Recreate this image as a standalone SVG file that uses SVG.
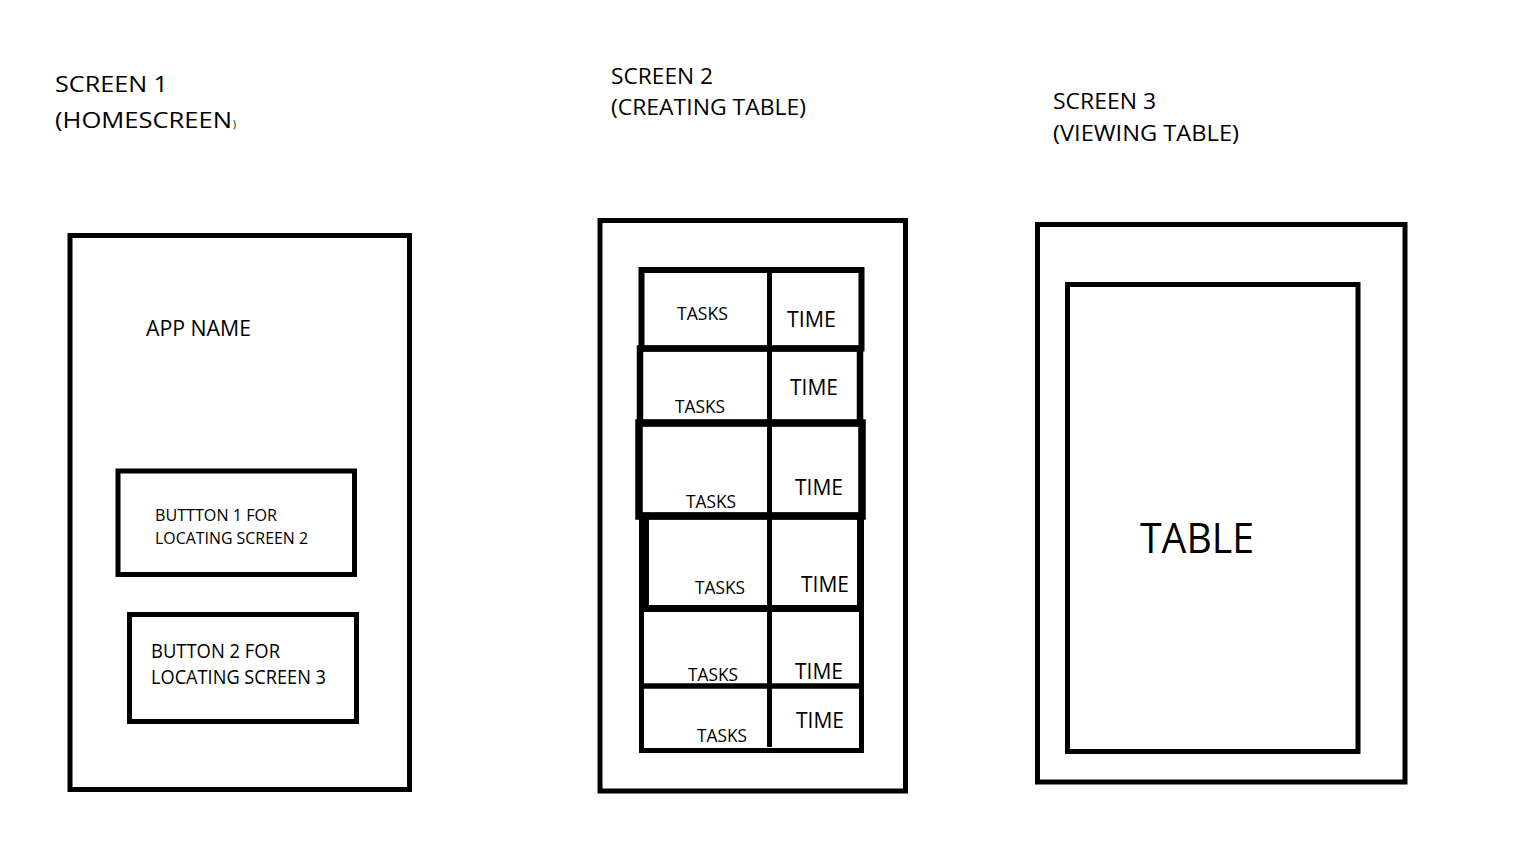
<svg xmlns="http://www.w3.org/2000/svg" width="1536" height="864" viewBox="0 0 1536 864">
<style>
  .box { fill: none; stroke: #000; stroke-width: 5; }
  .t { font-family: "Open Sans", "Liberation Sans", sans-serif; fill: #000; }
  .title { font-size: 22px; }
  .tasks { font-size: 18px; }
  .time { font-size: 21px; }
</style>
<rect width="1536" height="864" fill="#fff"/>

<g id="screen1">
  <text class="t title" x="55" y="92" textLength="113" lengthAdjust="spacingAndGlyphs">SCREEN 1</text>
  <text class="t title" x="55" y="128" textLength="177" lengthAdjust="spacingAndGlyphs">(HOMESCREEN</text>
  <text class="t" x="233" y="128" font-size="10">)</text>
  <rect class="box" x="70" y="235.5" width="339.5" height="554"/>
  <text class="t" x="146" y="336" font-size="22" textLength="105" lengthAdjust="spacingAndGlyphs">APP NAME</text>
</g>

<g id="button1">
  <rect class="box" x="118" y="471" width="236.5" height="103.5"/>
  <text class="t" x="155" y="521" font-size="17" textLength="122" lengthAdjust="spacingAndGlyphs">BUTTTON 1 FOR</text>
  <text class="t" x="155" y="544" font-size="17" textLength="153" lengthAdjust="spacingAndGlyphs">LOCATING SCREEN 2</text>
</g>

<g id="button2">
  <rect class="box" x="129.5" y="614.5" width="227" height="107"/>
  <text class="t" x="151" y="658" font-size="19.5" textLength="129" lengthAdjust="spacingAndGlyphs">BUTTON 2 FOR</text>
  <text class="t" x="151" y="684" font-size="19.5" textLength="175" lengthAdjust="spacingAndGlyphs">LOCATING SCREEN 3</text>
</g>

<g id="screen2">
  <text class="t title" x="611" y="84" textLength="102" lengthAdjust="spacingAndGlyphs">SCREEN 2</text>
  <text class="t title" x="611" y="115" textLength="195" lengthAdjust="spacingAndGlyphs">(CREATING TABLE)</text>
  <rect class="box" x="600" y="220.5" width="305.5" height="570.5"/>
</g>

<g id="table-rows">
  <rect x="641.5" y="270" width="220" height="78.5" fill="none" stroke="#000" stroke-width="6"/>
  <rect x="640" y="348.5" width="220" height="74.5" fill="none" stroke="#000" stroke-width="6.5"/>
  <rect x="639" y="423" width="223" height="93" fill="none" stroke="#000" stroke-width="7.5"/>
  <rect x="644" y="516" width="216.5" height="92.5" fill="none" stroke="#000" stroke-width="7"/>
  <line x1="644" y1="516" x2="644" y2="608.5" stroke="#000" stroke-width="10"/>
  <rect x="641.5" y="608.5" width="220" height="77.5" fill="none" stroke="#000" stroke-width="5"/>
  <rect x="641.5" y="686" width="220" height="64.5" fill="none" stroke="#000" stroke-width="5"/>
  <line x1="769.5" y1="270" x2="769.5" y2="747" stroke="#000" stroke-width="5"/>
</g>

<g id="table-labels">
  <text class="t tasks" x="677" y="320" textLength="51" lengthAdjust="spacingAndGlyphs">TASKS</text>
  <text class="t time" x="787" y="327" textLength="49" lengthAdjust="spacingAndGlyphs">TIME</text>
  <text class="t tasks" x="675" y="413" textLength="50" lengthAdjust="spacingAndGlyphs">TASKS</text>
  <text class="t time" x="790" y="395" textLength="48" lengthAdjust="spacingAndGlyphs">TIME</text>
  <text class="t tasks" x="686" y="508" textLength="50" lengthAdjust="spacingAndGlyphs">TASKS</text>
  <text class="t time" x="795" y="495" textLength="48" lengthAdjust="spacingAndGlyphs">TIME</text>
  <text class="t tasks" x="695" y="594" textLength="50" lengthAdjust="spacingAndGlyphs">TASKS</text>
  <text class="t time" x="801" y="592" textLength="48" lengthAdjust="spacingAndGlyphs">TIME</text>
  <text class="t tasks" x="688" y="681" textLength="50" lengthAdjust="spacingAndGlyphs">TASKS</text>
  <text class="t time" x="795" y="679" textLength="48" lengthAdjust="spacingAndGlyphs">TIME</text>
  <text class="t tasks" x="697" y="742" textLength="50" lengthAdjust="spacingAndGlyphs">TASKS</text>
  <text class="t time" x="796" y="728" textLength="48" lengthAdjust="spacingAndGlyphs">TIME</text>
</g>

<g id="screen3">
  <text class="t title" x="1053" y="109" textLength="103" lengthAdjust="spacingAndGlyphs">SCREEN 3</text>
  <text class="t title" x="1053" y="141" textLength="186" lengthAdjust="spacingAndGlyphs">(VIEWING TABLE)</text>
  <rect class="box" x="1037.5" y="224.5" width="367.5" height="557.5"/>
</g>

<g id="table-view">
  <rect class="box" x="1067.5" y="284.5" width="290.5" height="467"/>
  <text class="t" x="1140" y="553" font-size="42" textLength="114" lengthAdjust="spacingAndGlyphs">TABLE</text>
</g>
</svg>
